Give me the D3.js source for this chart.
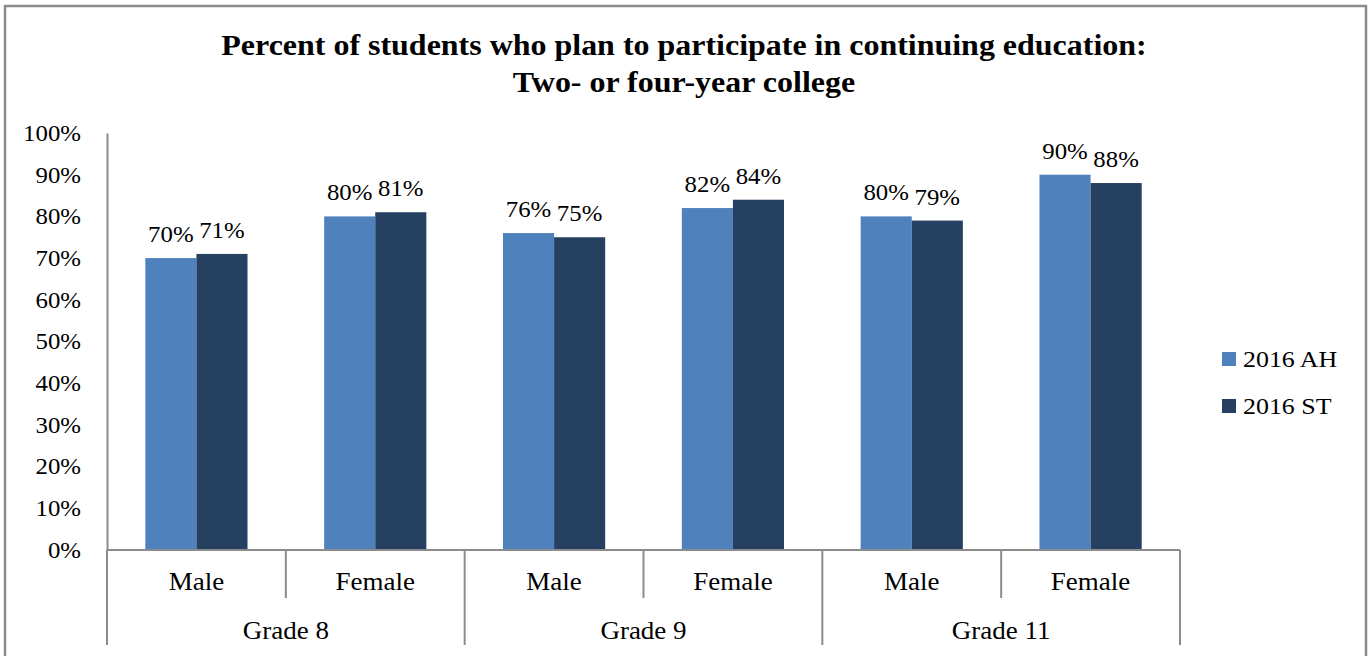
<!DOCTYPE html>
<html>
<head>
<meta charset="utf-8">
<script src="https://cdn.jsdelivr.net/npm/d3@7"></script>
<style>
  html, body { margin: 0; padding: 0; background: #fff; }
  svg { display: block; }
  svg text { font-family: 'Liberation Serif', Tinos, 'Times New Roman', serif !important; fill: #000; }
</style>
</head>
<body>
<svg id="chart" width="1368" height="656"></svg>
<script>
// Chart data
const grades = ["Grade 8", "Grade 9", "Grade 11"];
const genders = ["Male", "Female"];
const seriesNames = ["2016 AH", "2016 ST"];
const ah = [70, 80, 76, 82, 80, 90];
const st = [71, 81, 75, 84, 79, 88];
const yTicks = [0, 10, 20, 30, 40, 50, 60, 70, 80, 90, 100];
const titleLines = ["Percent of students who plan to participate in continuing education:", "Two- or four-year college"];

const colors = ["#4F81BD", "#254061"];
const axisColor = "#8c8c8c";
const textWiden = 1.08; // slightly wide lettering

const svg = d3.select("#chart");
const W = 1368, H = 656;

// widen a text horizontally around its own anchor x
function widen(sel, ax) {
  sel.attr("transform", function () {
    const a = ax !== undefined ? ax : +d3.select(this).attr("x") || 0;
    return `translate(${a},0) scale(${textWiden},1) translate(${-a},0)`;
  });
}

// Outer frame (top, left, right)
svg.append("path")
  .attr("d", `M5,${H} V6 H1366 V${H}`)
  .attr("fill", "none").attr("stroke", "#8a8a8a").attr("stroke-width", 2.5);

// Title
const title = svg.append("text")
  .attr("text-anchor", "middle")
  .style("font-weight", "bold")
  .style("font-size", "29.6px");
title.selectAll("tspan").data(titleLines).join("tspan")
  .attr("x", 684)
  .attr("y", (d, i) => 55 + i * 37)
  .text(d => d);
widen(title, 684);

// Plot area
const plot = { left: 107, right: 1180, top: 133, bottom: 550 };

const cats = [];
grades.forEach(g => genders.forEach(s => cats.push({ grade: g, gender: s })));

const x = d3.scaleBand()
  .domain(d3.range(cats.length))
  .range([plot.left, plot.right])
  .padding(0);

const xInner = d3.scaleBand()
  .domain(seriesNames)
  .range([0, x.bandwidth()])
  .paddingInner(0)
  .paddingOuter(0.75);

const y = d3.scaleLinear().domain([0, 100]).range([plot.bottom, plot.top]);

// Y axis
const yAxis = d3.axisLeft(y)
  .tickValues(yTicks)
  .tickSize(0)
  .tickPadding(26)
  .tickFormat(d => d + "%");
const yg = svg.append("g").attr("transform", `translate(${plot.left},0)`).call(yAxis);
yg.select(".domain").attr("stroke", axisColor).attr("stroke-width", 2);
yg.selectAll("text").style("font-size", "23px");
widen(yg.selectAll("text"));

// Bars
const rows = cats.map((c, i) => ({ i, values: [ah[i], st[i]] }));
const groups = svg.append("g").selectAll("g").data(rows).join("g")
  .attr("transform", d => `translate(${x(d.i)},0)`);

groups.selectAll("rect").data(d => d.values.map((v, k) => ({ v, k }))).join("rect")
  .attr("x", d => xInner(seriesNames[d.k]))
  .attr("y", d => y(d.v))
  .attr("width", xInner.bandwidth())
  .attr("height", d => y(0) - y(d.v))
  .attr("fill", d => colors[d.k]);

// Value labels
const valueLabels = groups.selectAll("text").data(d => d.values.map((v, k) => ({ v, k }))).join("text")
  .attr("x", d => xInner(seriesNames[d.k]) + xInner.bandwidth() / 2)
  .attr("y", d => y(d.v) - 16)
  .attr("text-anchor", "middle")
  .style("font-size", "23px")
  .text(d => d.v + "%");
widen(valueLabels);

// Category axis: baseline, separators, labels
const axisG = svg.append("g").attr("stroke", axisColor).attr("stroke-width", 2);
axisG.append("line")
  .attr("x1", plot.left).attr("x2", plot.right)
  .attr("y1", plot.bottom).attr("y2", plot.bottom);

// separators between genders inside a grade
const subEdges = d3.range(1, cats.length).filter(i => i % genders.length !== 0);
axisG.selectAll(".sub").data(subEdges).join("line")
  .attr("x1", i => x(i)).attr("x2", i => x(i))
  .attr("y1", plot.bottom).attr("y2", 598);

// separators between grades
const gradeEdges = d3.range(0, cats.length + 1, genders.length);
axisG.selectAll(".grp").data(gradeEdges).join("line")
  .attr("x1", i => i === cats.length ? plot.right : x(i))
  .attr("x2", i => i === cats.length ? plot.right : x(i))
  .attr("y1", plot.bottom).attr("y2", 645);

const genderLabels = svg.append("g").selectAll("text").data(cats).join("text")
  .attr("x", (d, i) => x(i) + x.bandwidth() / 2)
  .attr("y", 590)
  .attr("text-anchor", "middle")
  .style("font-size", "25px")
  .text(d => d.gender);
widen(genderLabels);

const gradeLabels = svg.append("g").selectAll("text").data(grades).join("text")
  .attr("x", (d, gi) => x(gi * genders.length) + x.bandwidth() * genders.length / 2)
  .attr("y", 639)
  .attr("text-anchor", "middle")
  .style("font-size", "25px")
  .text(d => d);
widen(gradeLabels);

// Legend
const legend = svg.append("g").selectAll("g").data(seriesNames).join("g")
  .attr("transform", (d, i) => `translate(1222,${352 + i * 47})`);
legend.append("rect")
  .attr("width", 14).attr("height", 14)
  .attr("fill", (d, i) => colors[i]);
const legendText = legend.append("text")
  .attr("x", 21).attr("y", 15)
  .style("font-size", "24px")
  .text(d => d);
widen(legendText);
</script>
</body>
</html>
